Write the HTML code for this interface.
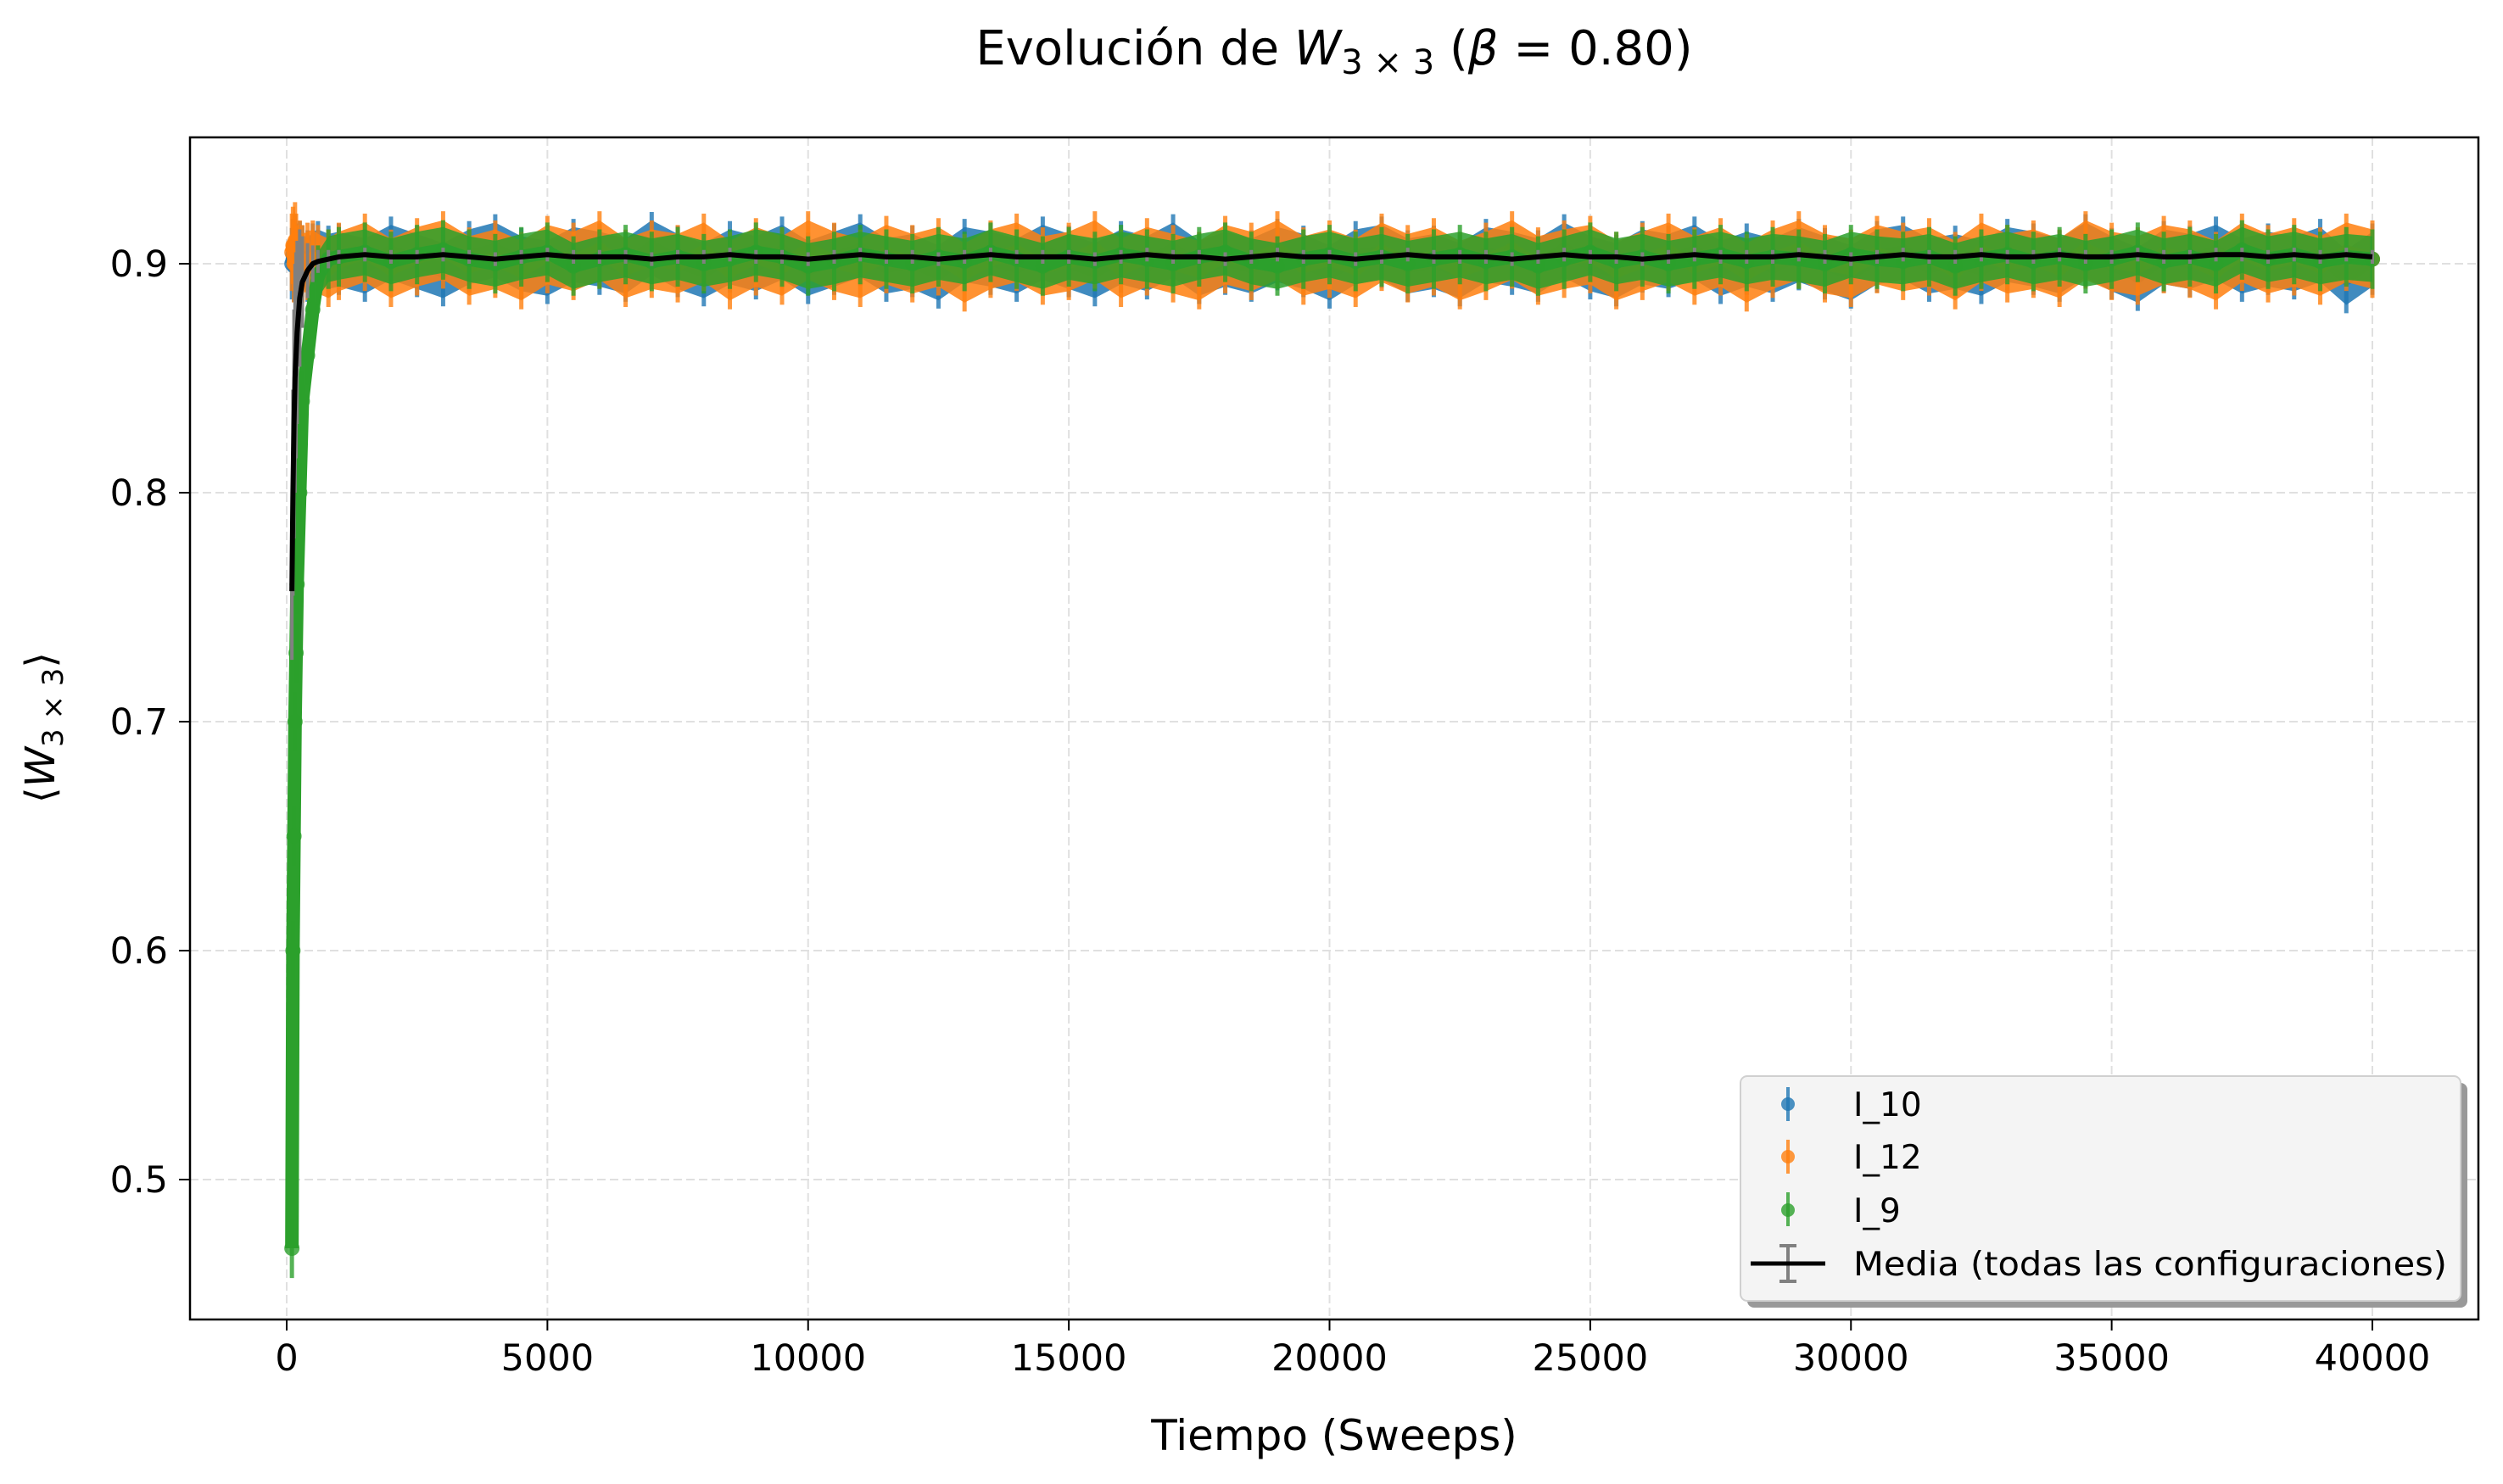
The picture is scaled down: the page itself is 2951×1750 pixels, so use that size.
<!DOCTYPE html>
<html><head><meta charset="utf-8"><style>
body{margin:0;background:#fff;}
svg{display:block;font-family:"DejaVu Sans","Liberation Sans",sans-serif;}
</style></head><body>
<svg id="chart" width="2951" height="1750" viewBox="0 0 2951 1750" xmlns="http://www.w3.org/2000/svg">
<rect width="2951" height="1750" fill="#fff"/>
<g id="grid"></g>
<g id="series"></g>
<rect x="224" y="162" width="2698" height="1394" fill="none" stroke="#000" stroke-width="2.5"/>
<g id="ticks"></g>
<text x="1573" y="76" font-size="56" text-anchor="middle">Evolución de <tspan font-style="italic">W</tspan><tspan font-size="40" dy="11">3 × 3</tspan><tspan dy="-11"> (</tspan><tspan font-style="italic">β</tspan> = 0.80)</text>
<text x="1573" y="1710" font-size="50" text-anchor="middle">Tiempo (Sweeps)</text>
<text transform="translate(64,858) rotate(-90)" font-size="48" text-anchor="middle">⟨<tspan font-style="italic">W</tspan><tspan font-size="34" dy="10">3 × 3</tspan><tspan dy="-10">⟩</tspan></text>
<g>
<rect x="2060" y="1277" width="849" height="265" rx="8" fill="#999"/>
<rect x="2052" y="1269" width="849" height="265" rx="8" fill="#f4f4f4" stroke="#d0d0d0" stroke-width="2"/>
<g><line x1="2108" y1="1282" x2="2108" y2="1322" stroke="#1f77b4" stroke-opacity="0.8" stroke-width="4"/><circle cx="2108" cy="1302" r="8" fill="#1f77b4" fill-opacity="0.8"/><text x="2185" y="1316" font-size="39">I_10</text></g>
<g><line x1="2108" y1="1344" x2="2108" y2="1384" stroke="#ff7f0e" stroke-opacity="0.8" stroke-width="4"/><circle cx="2108" cy="1364" r="8" fill="#ff7f0e" fill-opacity="0.8"/><text x="2185" y="1378" font-size="39">I_12</text></g>
<g><line x1="2108" y1="1406" x2="2108" y2="1446" stroke="#2ca02c" stroke-opacity="0.8" stroke-width="4"/><circle cx="2108" cy="1427" r="8" fill="#2ca02c" fill-opacity="0.8"/><text x="2185" y="1441" font-size="39">I_9</text></g>
<g><line x1="2108" y1="1469" x2="2108" y2="1511" stroke="#808080" stroke-width="4"/><line x1="2098" y1="1469" x2="2118" y2="1469" stroke="#808080" stroke-width="4"/><line x1="2098" y1="1511" x2="2118" y2="1511" stroke="#808080" stroke-width="4"/><line x1="2064" y1="1490" x2="2152" y2="1490" stroke="#000" stroke-width="5"/><text x="2185" y="1504" font-size="39" textLength="700" lengthAdjust="spacingAndGlyphs">Media (todas las configuraciones)</text></g>
</g>
</svg>
<script>
const earlyTimes=[100,120,140,160,180,200,250,300,400,500,600,800];
const stepStart=1000, stepEnd=40000, stepSize=500;
const xTicks=[0,5000,10000,15000,20000,25000,30000,35000,40000];
const yTicks=[0.5,0.6,0.7,0.8,0.9];
const yTickLabels=["0.5","0.6","0.7","0.8","0.9"];
const seriesNames=["I_10","I_12","I_9"];
const valsI10=[0.900,0.904,0.899,0.906,0.902,0.900,0.903,0.901,0.899,0.902,0.903,0.901,
0.902,0.899,0.905,0.901,0.897,0.903,0.906,0.900,0.898,0.904,0.902,0.899,0.907,0.901,0.897,0.903,0.900,0.905,0.898,0.902,0.906,0.899,0.901,0.896,0.904,0.902,0.899,0.905,0.901,0.897,0.903,0.900,0.906,0.898,0.902,0.899,0.904,0.901,0.896,0.903,0.905,0.899,0.901,0.897,0.904,0.902,0.899,0.906,0.900,0.897,0.903,0.901,0.905,0.898,0.902,0.899,0.904,0.900,0.896,0.903,0.905,0.899,0.901,0.898,0.904,0.902,0.899,0.906,0.900,0.895,0.903,0.901,0.905,0.899,0.902,0.900,0.904,0.894,0.902];
const valsI12=[0.905,0.908,0.900,0.910,0.905,0.900,0.902,0.900,0.901,0.902,0.900,0.898,
0.901,0.905,0.898,0.903,0.906,0.899,0.902,0.897,0.904,0.901,0.906,0.898,0.902,0.900,0.905,0.897,0.903,0.899,0.906,0.901,0.898,0.904,0.900,0.903,0.896,0.902,0.905,0.899,0.901,0.906,0.898,0.903,0.900,0.897,0.904,0.901,0.906,0.899,0.902,0.898,0.905,0.900,0.903,0.897,0.901,0.906,0.899,0.902,0.904,0.897,0.901,0.905,0.899,0.903,0.896,0.902,0.906,0.900,0.898,0.904,0.901,0.903,0.897,0.905,0.900,0.902,0.898,0.906,0.901,0.899,0.904,0.902,0.897,0.905,0.900,0.903,0.899,0.905,0.902];
const valsI9=[0.470,0.600,0.650,0.700,0.730,0.760,0.800,0.840,0.860,0.880,0.895,0.902,
0.903,0.905,0.901,0.904,0.906,0.902,0.900,0.903,0.905,0.899,0.902,0.904,0.901,0.903,0.900,0.902,0.905,0.903,0.899,0.901,0.904,0.902,0.900,0.903,0.901,0.905,0.902,0.899,0.903,0.901,0.904,0.902,0.900,0.903,0.905,0.901,0.899,0.902,0.904,0.901,0.903,0.900,0.902,0.904,0.901,0.903,0.899,0.902,0.905,0.901,0.903,0.900,0.902,0.904,0.901,0.903,0.902,0.900,0.904,0.902,0.901,0.903,0.899,0.902,0.904,0.901,0.903,0.900,0.902,0.905,0.901,0.903,0.900,0.906,0.902,0.904,0.901,0.903,0.902];
const valsMean=[0.757,0.800,0.830,0.850,0.860,0.870,0.885,0.892,0.897,0.900,0.901,0.902,
0.903,0.904,0.903,0.903,0.904,0.903,0.902,0.903,0.904,0.903,0.903,0.903,0.902,0.903,0.903,0.904,0.903,0.903,0.902,0.903,0.904,0.903,0.903,0.902,0.903,0.904,0.903,0.903,0.903,0.902,0.903,0.904,0.903,0.903,0.902,0.903,0.904,0.903,0.903,0.902,0.903,0.904,0.903,0.903,0.903,0.902,0.903,0.904,0.903,0.903,0.902,0.903,0.904,0.903,0.903,0.903,0.904,0.903,0.902,0.903,0.904,0.903,0.903,0.904,0.903,0.903,0.904,0.903,0.903,0.904,0.903,0.903,0.904,0.904,0.903,0.904,0.903,0.904,0.903];
const errI10=0.012, errI12=0.013, errI9=0.010;
const errMeanEarly=[0.030,0.045,0.05,0.05,0.045,0.04,0.03,0.02,0.012,0.008,0.005,0.004];
const errMeanLate=0.003;

const times=earlyTimes.slice();
for(let t=stepStart;t<=stepEnd;t+=stepSize) times.push(t);

const X0=338, XPER=(2797-338)/40000;
const Y09=311, YPER=2700;
const xs=t=>X0+t*XPER;
const ys=v=>Y09+(0.9-v)*YPER;
const NS="http://www.w3.org/2000/svg";
function mk(tag,attrs,parent){const e=document.createElementNS(NS,tag);for(const k in attrs)e.setAttribute(k,attrs[k]);parent.appendChild(e);return e;}

const grid=document.getElementById('grid'), ticks=document.getElementById('ticks'), series=document.getElementById('series');
xTicks.forEach(t=>{
  const gl=mk('line',{x1:xs(t),x2:xs(t),y1:162,y2:1556,stroke:'#e0e0e0','stroke-width':2,'stroke-dasharray':'10,5'},grid);
  
  
  const tk=mk('line',{x1:xs(t),x2:xs(t),y1:1556,y2:1569,stroke:'#000','stroke-width':2},ticks);
  
  
  const lb=mk('text',{x:xs(t),y:1616,'font-size':43,'text-anchor':'middle'},ticks);
  lb.textContent=String(t);
  
  
});
yTicks.forEach((v,i)=>{
  const gl=mk('line',{x1:224,x2:2922,y1:ys(v),y2:ys(v),stroke:'#e0e0e0','stroke-width':2,'stroke-dasharray':'10,5'},grid);
  
  
  const tk=mk('line',{x1:211,x2:224,y1:ys(v),y2:ys(v),stroke:'#000','stroke-width':2},ticks);
  
  
  const lb=mk('text',{x:198,y:ys(v)+15,'font-size':43,'text-anchor':'end'},ticks);
  lb.textContent=yTickLabels[i];
  
  
});

function drawSeries(vals,err,color,name){
  const g=mk('g',{},series);
  
  
  const n=Math.min(vals.length,times.length);
  let up=[],lo=[],ln=[];
  for(let i=0;i<n;i++){up.push(xs(times[i])+','+ys(vals[i]+err));lo.unshift(xs(times[i])+','+ys(vals[i]-err));ln.push(xs(times[i])+','+ys(vals[i]));}
  mk('polygon',{points:up.concat(lo).join(' '),fill:color,'fill-opacity':0.85},g);
  mk('polyline',{points:ln.join(' '),fill:'none',stroke:color,'stroke-width':16,'stroke-linejoin':'round'},g);
  for(let i=0;i<n;i++){
    const eb=mk('line',{x1:xs(times[i]),x2:xs(times[i]),y1:ys(vals[i]-err*1.3),y2:ys(vals[i]+err*1.3),stroke:color,'stroke-width':5,'stroke-opacity':0.8},g);
    
    
    const c=mk('circle',{cx:xs(times[i]),cy:ys(vals[i]),r:9,fill:color,'fill-opacity':0.8},g);
    
    
  }
}
drawSeries(valsI10,errI10,'#1f77b4','series-i10');
drawSeries(valsI12,errI12,'#ff7f0e','series-i12');
drawSeries(valsI9,errI9,'#2ca02c','series-i9');

const gm=mk('g',{},series);


const nm=Math.min(valsMean.length,times.length);
let pts=[];
for(let i=0;i<nm;i++){
  const e=i<errMeanEarly.length?errMeanEarly[i]:errMeanLate;
  const eb=mk('line',{x1:xs(times[i]),x2:xs(times[i]),y1:ys(valsMean[i]-e),y2:ys(valsMean[i]+e),stroke:'#808080','stroke-width':4},gm);
  
  
  pts.push(xs(times[i])+','+ys(valsMean[i]));
}
const ml=mk('polyline',{points:pts.join(' '),fill:'none',stroke:'#000','stroke-width':6,'stroke-linejoin':'round'},gm);


</script>
</body></html>
